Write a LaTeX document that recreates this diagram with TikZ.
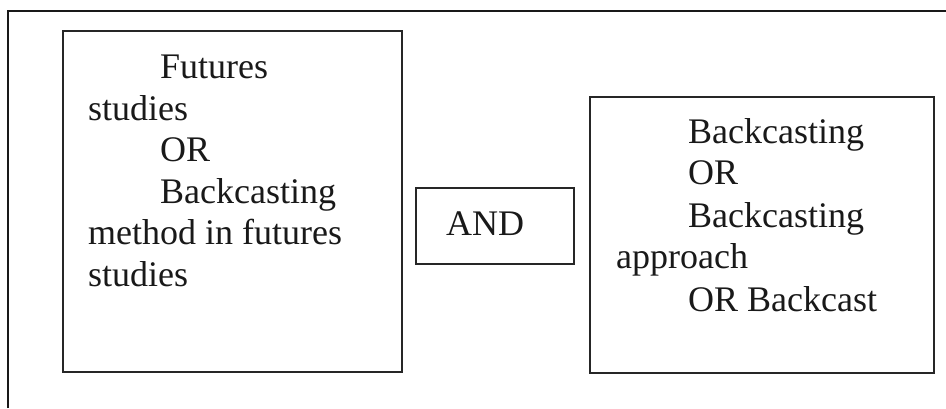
\documentclass[tikz,border=0pt]{standalone}
\usepackage{fontspec}
\setmainfont{Liberation Serif}
\begin{document}
\begin{tikzpicture}[x=1pt,y=-1pt,
  boxline/.style={draw=black!85,line width=2.2pt},
  frameline/.style={draw=black!90,line width=1.3pt},
  txt/.style={inner sep=0pt,anchor=base west,font=\fontsize{36}{42}\selectfont,text=black!90}]
\useasboundingbox (0,0) rectangle (946,408);
% outer frame (only top and left edges visible)
\coordinate (fbl) at (8,408);
\coordinate (ftl) at (8,11);
\coordinate (ftr) at (946,11);
\draw[frameline] (fbl) -- (ftl) -- (ftr);
% boxes
\node[boxline,rectangle,minimum width=339pt,minimum height=341pt,anchor=north west,inner sep=0pt] (left) at (62,30) {};
\node[boxline,rectangle,minimum width=158pt,minimum height=76pt,anchor=north west,inner sep=0pt] (and) at (415,187) {};
\node[boxline,rectangle,minimum width=344pt,minimum height=276pt,anchor=north west,inner sep=0pt] (right) at (589,96) {};
% left text
\node[txt] (l1) at (160,78) {Futures};
\node[txt] (l2) at (88,120) {studies};
\node[txt] (l3) at (160,161) {OR};
\node[txt] (l4) at (160,203) {Backcasting};
\node[txt] (l5) at (88,244) {method in futures};
\node[txt] (l6) at (88,286) {studies};
% AND
\node[txt] (andt) at (446,235) {AND};
% right text
\node[txt] (r1) at (688,143) {Backcasting};
\node[txt] (r2) at (688,184) {OR};
\node[txt] (r3) at (688,227) {Backcasting};
\node[txt] (r4) at (616,268) {approach};
\node[txt] (r5) at (688,311) {OR Backcast};
\end{tikzpicture}
\end{document}
